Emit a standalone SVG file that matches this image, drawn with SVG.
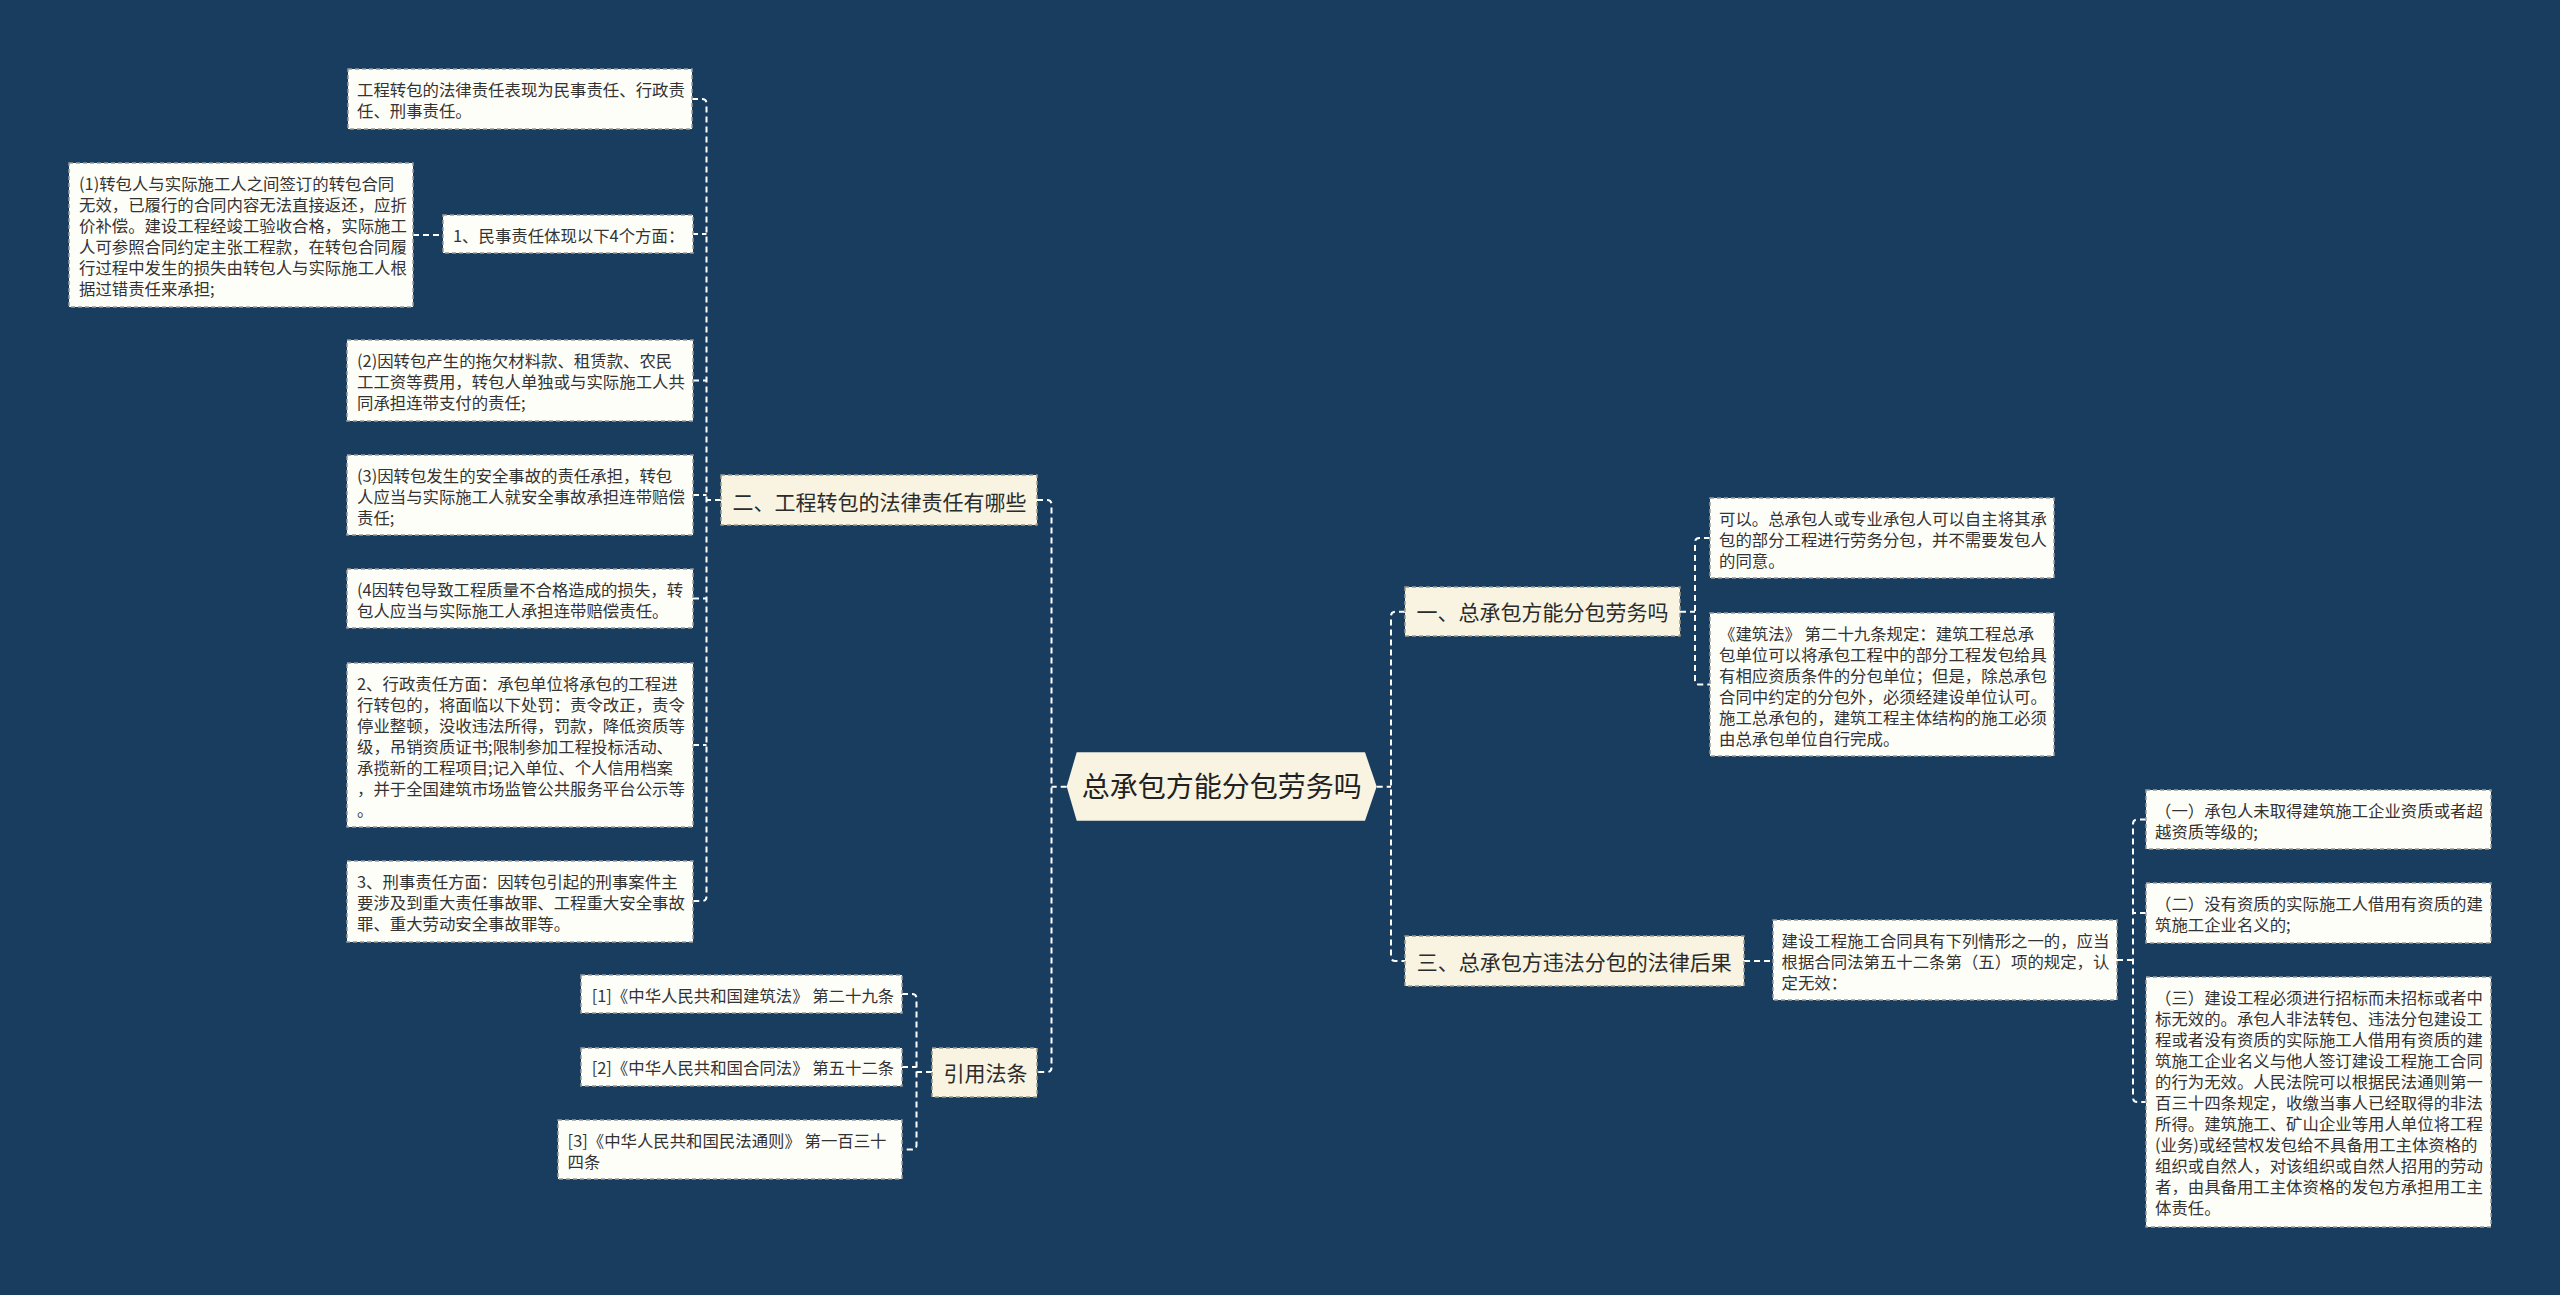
<svg xmlns="http://www.w3.org/2000/svg" width="2560" height="1295" viewBox="0 0 2560 1295">
<style>
.bg{fill:#183d5e}
.leaf{fill:#fefef9;stroke:#9a9a9a;stroke-width:1.5;stroke-dasharray:4 3}
.br{fill:#f8f4e1;stroke:#9a9a8c;stroke-width:1.5;stroke-dasharray:4 3}
.ctr{fill:#f8f4e1}
.t{font-family:"Noto Sans CJK SC","Noto Sans",sans-serif;font-size:16.4px;fill:#333333}
.tb{font-family:"Noto Sans CJK SC","Noto Sans",sans-serif;font-size:21px;fill:#2b2b2b}
.tc{font-family:"Noto Sans CJK SC","Noto Sans",sans-serif;font-size:28px;fill:#222222}
.c{fill:none;stroke:#ffffff;stroke-width:2;stroke-dasharray:6 4}
</style>
<rect class="bg" x="0" y="0" width="2560" height="1295"/>

<g id="connectors">
<path class="c" d="M1037,500 H1047 Q1051.5,500 1051.5,504.5 V1067.5 Q1051.5,1072 1047,1072 H1037"/>
<path class="c" d="M1066.7,786.7 H1051.5"/>
<path class="c" d="M1405,611.7 H1395.5 Q1391,611.7 1391,616.2 V956.5 Q1391,961 1395.5,961 H1405"/>
<path class="c" d="M1376.7,786.7 H1391"/>
<path class="c" d="M692,99 H702 Q706.5,99 706.5,103.5 V896.5 Q706.5,901 702,901 H693"/>
<path class="c" d="M692,234 H706.5 M693,380.5 H706.5 M693,495 H706.5 M693,598.5 H706.5 M693,745 H706.5 M721,500 H706.5"/>
<path class="c" d="M413,235 H443"/>
<path class="c" d="M902,994 H912 Q916.5,994 916.5,998.5 V1145 Q916.5,1149.5 912,1149.5 H902"/>
<path class="c" d="M902,1067 H916.5 M932,1072 H916.5"/>
<path class="c" d="M1710,538 H1699.5 Q1695,538 1695,542.5 V680 Q1695,684.5 1699.5,684.5 H1710"/>
<path class="c" d="M1680,611.7 H1695"/>
<path class="c" d="M1744,961 H1773"/>
<path class="c" d="M2146,819.5 H2137.5 Q2133,819.5 2133,824 V1097.5 Q2133,1102 2137.5,1102 H2146"/>
<path class="c" d="M2146,913 H2133 M2117,960 H2133"/>
</g>

<g id="center">
<polygon class="ctr" points="1066.7,786.5 1076.7,752.3 1365,752.3 1376.7,786.5 1365,820.7 1076.7,820.7"/>
<text class="tc" x="1221.7" y="797" text-anchor="middle">总承包方能分包劳务吗</text>
</g>

<g id="n2">
<rect class="br" x="721" y="475" width="316" height="50"/>
<text class="tb" x="732.6" y="509.5">二、工程转包的法律责任有哪些</text>
</g>
<g id="nA">
<rect class="leaf" x="348" y="69" width="344" height="60"/>
<text class="t" x="357" y="96"><tspan x="357">工程转包的法律责任表现为民事责任、行政责</tspan><tspan x="357" dy="21">任、刑事责任。</tspan></text>
</g>
<g id="n1">
<rect class="leaf" x="443" y="215" width="250" height="38"/>
<text class="t" x="453" y="242">1、民事责任体现以下4个方面：</text>
</g>
<g id="n1a">
<rect class="leaf" x="69" y="163" width="344" height="144"/>
<text class="t" x="79" y="190"><tspan x="79">(1)转包人与实际施工人之间签订的转包合同</tspan><tspan x="79" dy="21">无效，已履行的合同内容无法直接返还，应折</tspan><tspan x="79" dy="21">价补偿。建设工程经竣工验收合格，实际施工</tspan><tspan x="79" dy="21">人可参照合同约定主张工程款，在转包合同履</tspan><tspan x="79" dy="21">行过程中发生的损失由转包人与实际施工人根</tspan><tspan x="79" dy="21">据过错责任来承担;</tspan></text>
</g>
<g id="n1b">
<rect class="leaf" x="347" y="340" width="346" height="81"/>
<text class="t" x="357" y="367"><tspan x="357">(2)因转包产生的拖欠材料款、租赁款、农民</tspan><tspan x="357" dy="21">工工资等费用，转包人单独或与实际施工人共</tspan><tspan x="357" dy="21">同承担连带支付的责任;</tspan></text>
</g>
<g id="n1c">
<rect class="leaf" x="347" y="455" width="346" height="80"/>
<text class="t" x="357" y="482"><tspan x="357">(3)因转包发生的安全事故的责任承担，转包</tspan><tspan x="357" dy="21">人应当与实际施工人就安全事故承担连带赔偿</tspan><tspan x="357" dy="21">责任;</tspan></text>
</g>
<g id="n1d">
<rect class="leaf" x="347" y="569" width="346" height="59"/>
<text class="t" x="357" y="596"><tspan x="357">(4因转包导致工程质量不合格造成的损失，转</tspan><tspan x="357" dy="21">包人应当与实际施工人承担连带赔偿责任。</tspan></text>
</g>
<g id="n2b">
<rect class="leaf" x="347" y="663" width="346" height="164"/>
<text class="t" x="357" y="690"><tspan x="357">2、行政责任方面：承包单位将承包的工程进</tspan><tspan x="357" dy="21">行转包的，将面临以下处罚：责令改正，责令</tspan><tspan x="357" dy="21">停业整顿，没收违法所得，罚款，降低资质等</tspan><tspan x="357" dy="21">级，吊销资质证书;限制参加工程投标活动、</tspan><tspan x="357" dy="21">承揽新的工程项目;记入单位、个人信用档案</tspan><tspan x="357" dy="21">，并于全国建筑市场监管公共服务平台公示等</tspan><tspan x="357" dy="21">。</tspan></text>
</g>
<g id="n2c">
<rect class="leaf" x="347" y="861" width="346" height="81"/>
<text class="t" x="357" y="888"><tspan x="357">3、刑事责任方面：因转包引起的刑事案件主</tspan><tspan x="357" dy="21">要涉及到重大责任事故罪、工程重大安全事故</tspan><tspan x="357" dy="21">罪、重大劳动安全事故罪等。</tspan></text>
</g>

<g id="nref">
<rect class="br" x="932" y="1048" width="105" height="49"/>
<text class="tb" x="943.6" y="1081">引用法条</text>
</g>
<g id="r1">
<rect class="leaf" x="581" y="975" width="321" height="38"/>
<text class="t" x="591.7" y="1002">[1]《中华人民共和国建筑法》 第二十九条</text>
</g>
<g id="r2">
<rect class="leaf" x="581" y="1048" width="321" height="38"/>
<text class="t" x="591.7" y="1074">[2]《中华人民共和国合同法》 第五十二条</text>
</g>
<g id="r3">
<rect class="leaf" x="558" y="1120" width="344" height="59"/>
<text class="t" x="567.6" y="1147"><tspan x="567.6">[3]《中华人民共和国民法通则》 第一百三十</tspan><tspan x="567.6" dy="21">四条</tspan></text>
</g>

<g id="n1r">
<rect class="br" x="1405" y="587" width="275" height="49"/>
<text class="tb" x="1416.4" y="620">一、总承包方能分包劳务吗</text>
</g>
<g id="n1ra">
<rect class="leaf" x="1710" y="498" width="344" height="80"/>
<text class="t" x="1719" y="525"><tspan x="1719">可以。总承包人或专业承包人可以自主将其承</tspan><tspan x="1719" dy="21">包的部分工程进行劳务分包，并不需要发包人</tspan><tspan x="1719" dy="21">的同意。</tspan></text>
</g>
<g id="n1rb">
<rect class="leaf" x="1710" y="613" width="344" height="143"/>
<text class="t" x="1719" y="640"><tspan x="1719">《建筑法》 第二十九条规定：建筑工程总承</tspan><tspan x="1719" dy="21">包单位可以将承包工程中的部分工程发包给具</tspan><tspan x="1719" dy="21">有相应资质条件的分包单位；但是，除总承包</tspan><tspan x="1719" dy="21">合同中约定的分包外，必须经建设单位认可。</tspan><tspan x="1719" dy="21">施工总承包的，建筑工程主体结构的施工必须</tspan><tspan x="1719" dy="21">由总承包单位自行完成。</tspan></text>
</g>

<g id="n3r">
<rect class="br" x="1405" y="936" width="339" height="50"/>
<text class="tb" x="1416.7" y="969.5">三、总承包方违法分包的法律后果</text>
</g>
<g id="n3ra">
<rect class="leaf" x="1773" y="920" width="344" height="80"/>
<text class="t" x="1781.6" y="947"><tspan x="1781.6">建设工程施工合同具有下列情形之一的，应当</tspan><tspan x="1781.6" dy="21">根据合同法第五十二条第（五）项的规定，认</tspan><tspan x="1781.6" dy="21">定无效：</tspan></text>
</g>
<g id="n3r1">
<rect class="leaf" x="2146" y="790" width="345" height="59"/>
<text class="t" x="2155" y="817"><tspan x="2155">（一）承包人未取得建筑施工企业资质或者超</tspan><tspan x="2155" dy="21">越资质等级的;</tspan></text>
</g>
<g id="n3r2">
<rect class="leaf" x="2146" y="883" width="345" height="60"/>
<text class="t" x="2155" y="910"><tspan x="2155">（二）没有资质的实际施工人借用有资质的建</tspan><tspan x="2155" dy="21">筑施工企业名义的;</tspan></text>
</g>
<g id="n3r3">
<rect class="leaf" x="2146" y="977" width="345" height="250"/>
<text class="t" x="2155" y="1004"><tspan x="2155">（三）建设工程必须进行招标而未招标或者中</tspan><tspan x="2155" dy="21">标无效的。承包人非法转包、违法分包建设工</tspan><tspan x="2155" dy="21">程或者没有资质的实际施工人借用有资质的建</tspan><tspan x="2155" dy="21">筑施工企业名义与他人签订建设工程施工合同</tspan><tspan x="2155" dy="21">的行为无效。人民法院可以根据民法通则第一</tspan><tspan x="2155" dy="21">百三十四条规定，收缴当事人已经取得的非法</tspan><tspan x="2155" dy="21">所得。建筑施工、矿山企业等用人单位将工程</tspan><tspan x="2155" dy="21">(业务)或经营权发包给不具备用工主体资格的</tspan><tspan x="2155" dy="21">组织或自然人，对该组织或自然人招用的劳动</tspan><tspan x="2155" dy="21">者，由具备用工主体资格的发包方承担用工主</tspan><tspan x="2155" dy="21">体责任。</tspan></text>
</g>
</svg>
